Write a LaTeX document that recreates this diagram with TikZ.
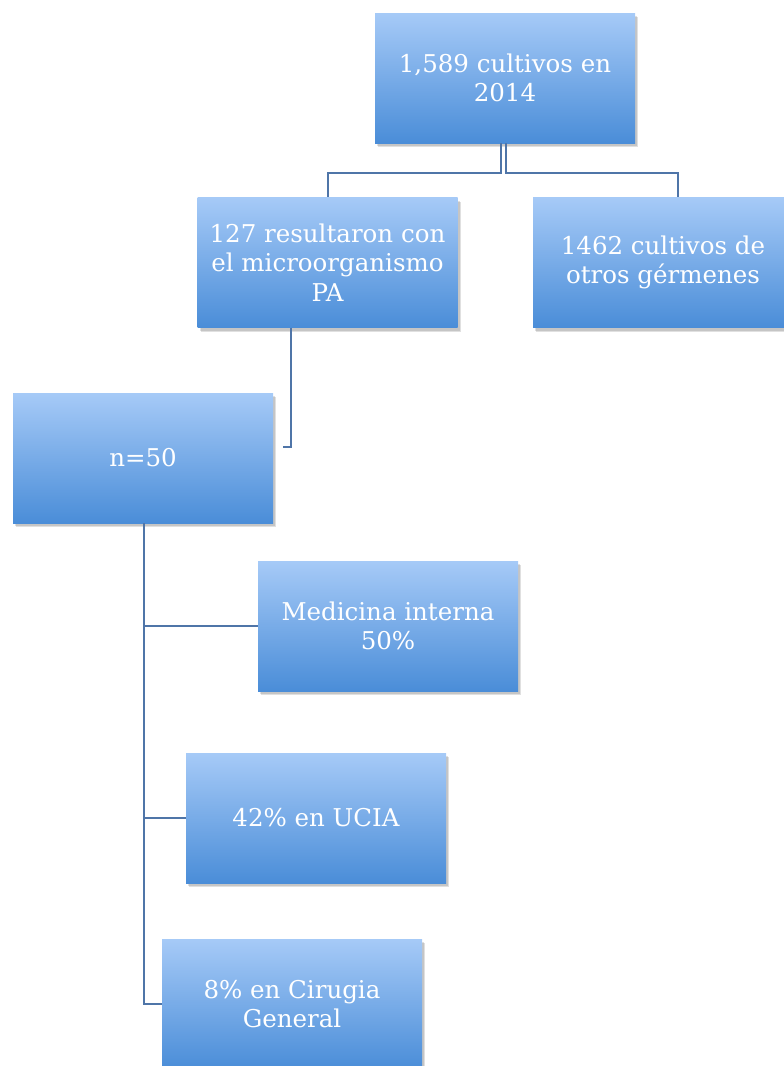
\documentclass[tikz,border=0pt]{standalone}
\usepackage{fontspec}
\newfontfamily\boxfontfam{DejaVu Serif}
\usetikzlibrary{calc}
\definecolor{boxtop}{HTML}{A6CAF7}
\definecolor{boxbot}{HTML}{4A8DD8}
\definecolor{linecol}{HTML}{4F75A8}
\tikzset{
  box/.style={minimum width=260pt, minimum height=130pt, inner sep=0pt, align=center,
    text=white, top color=boxtop, bottom color=boxbot, draw=none,
    font=\boxfontfam\fontsize{24.5}{29.5}\selectfont,
    preaction={fill=black, fill opacity=0.12, transform canvas={xshift=2pt,yshift=-3pt}},
    preaction={fill=black, fill opacity=0.12, transform canvas={xshift=3pt,yshift=-4pt}}},
  conn/.style={draw=linecol, line width=2.6pt}
}
\begin{document}
\begin{tikzpicture}[x=1pt,y=-1pt]
\useasboundingbox (0,0) rectangle (784,1066);
\clip (0,0) rectangle (784,1066);
\node[box] (top) at (505,78) {1,589 cultivos en\\2014};
\node[box] (pa) at (327.5,262.5) {127 resultaron con\\el microorganismo\\PA};
\node[box] (otros) at (663,262.5) {1462 cultivos de\\otros gérmenes};
\node[box] (n) at (143,458) {n=50};
\node[box] (med) at (388,626) {Medicina interna\\50\%};
\node[box] (ucia) at (316,818) {42\% en UCIA};
\node[box] (cir) at (292,1004) {8\% en Cirugia\\General};
\coordinate (paend) at (283,447);
\draw[conn] (top.south -| 501,0) |- (328,173) -- (pa.north -| 328,0);
\draw[conn] (top.south -| 506,0) |- (678,173) -- (otros.north -| 678,0);
\draw[conn] (pa.south -| 291,0) |- (paend);
\draw[conn] (n.south -| 144,0) |- (med.west);
\draw[conn] (n.south -| 144,0) |- (ucia.west);
\draw[conn] (n.south -| 144,0) |- (cir.west);
\end{tikzpicture}
\end{document}
